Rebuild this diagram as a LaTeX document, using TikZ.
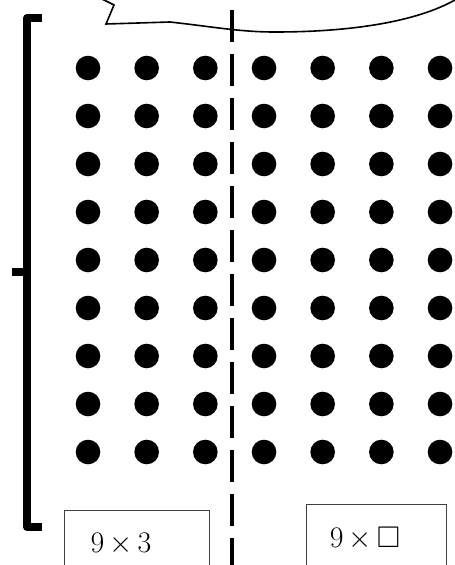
\documentclass[tikz,border=0pt]{standalone}
\usepackage{amssymb}
\begin{document}
\begin{tikzpicture}[x=1pt,y=-1pt,
  dot/.style={fill=black},
  answerbox/.style={draw=black!75,line width=1pt},
  eqtext/.style={font=\fontsize{24.88}{28}\selectfont,inner sep=0pt,anchor=center},
  bracketline/.style={line width=8pt,line cap=butt,line join=round},
  divider/.style={line width=4pt,dash pattern=on 32pt off 12pt},
  bubble/.style={line width=1.6pt,line join=miter}]
\useasboundingbox (0,0) rectangle (455,565);
\clip (0,0) rectangle (455,565);
% speech bubble bottom
\draw[bubble] (100,-2) -- (114,5) -- (106,24) -- (170,22)
  .. controls (215,27) and (240,32) .. (275,32)
  .. controls (350,32) and (420,22) .. (460,-3);
% bracket
\draw[bracketline] (42,18) -- (27,18) -- (27,527) -- (42,527);
\draw[bracketline] (12,272) -- (27,272);
% dots
\foreach \i in {0,...,6}{
  \foreach \j in {0,...,8}{
    \fill[dot] ({88+58.67*\i},{68+48*\j}) circle (12.3);
  }
}
% dashed divider
\coordinate (dtop) at (232,10);
\coordinate (dbot) at (232,570);
\draw[divider] (dtop) -- (dbot);
% boxes
\draw[answerbox] (64,580) -- (64,510) -- (209,510) -- (209,580);
\draw[answerbox] (306,580) -- (306,504) -- (446,504) -- (446,580);
\node[eqtext] (left) at (121,544) {\scalebox{1.2}{$9{\,\times\,}3$}};
\node[eqtext] (right) at (365,539) {\scalebox{1.2}{$9{\,\times\,}\square$}};
\end{tikzpicture}
\end{document}
